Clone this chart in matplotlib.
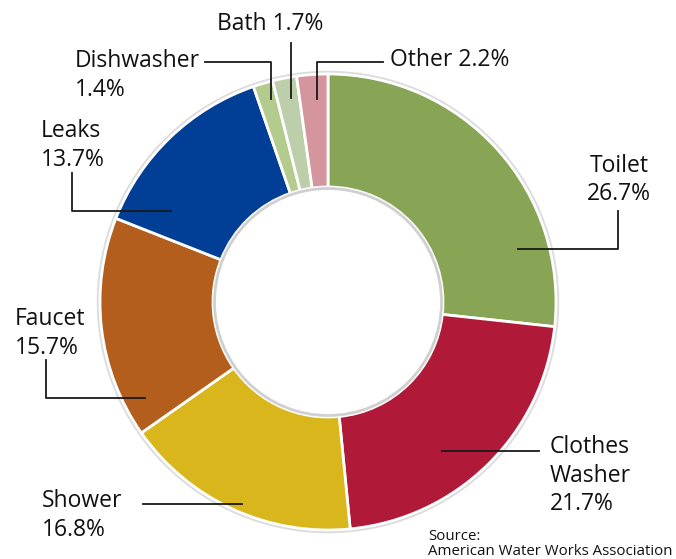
"""Donut chart of household indoor water use by fixture."""

import matplotlib
matplotlib.use("Agg")
import matplotlib.pyplot as plt
from matplotlib.patches import Circle

plt.rcParams["font.family"] = ["Open Sans", "DejaVu Sans"]

categories = ["Toilet", "Clothes\nWasher", "Shower", "Faucet", "Leaks",
              "Dishwasher", "Bath", "Other"]
shares = [26.7, 21.7, 16.8, 15.7, 13.7, 1.4, 1.7, 2.2]
colors = ["#87a555", "#b01a38", "#d9b61b", "#b35e1c", "#013e96",
          "#b3cb8c", "#bccfaa", "#d4959c"]

# label placement in pixel coords: text anchor, alignment, leader path
label_specs = {
    "Toilet": dict(xy=(619, 154), ha="center", sep="\n",
                   path=[(518, 249), (618, 249), (618, 211)]),
    "Clothes\nWasher": dict(xy=(550, 435), ha="left", sep="\n",
                            path=[(442, 451), (539, 451)]),
    "Shower": dict(xy=(42, 489), ha="left", sep="\n",
                   path=[(143, 504), (242, 504)]),
    "Faucet": dict(xy=(15, 307), ha="left", sep="\n",
                   path=[(46, 360), (46, 398), (145, 398)]),
    "Leaks": dict(xy=(41, 119), ha="left", sep="\n",
                  path=[(72, 173), (72, 211), (171, 211)]),
    "Dishwasher": dict(xy=(75, 49), ha="left", sep="\n",
                       path=[(205, 62), (271, 62), (271, 99)]),
    "Bath": dict(xy=(217, 12), ha="left", sep=" ",
                 path=[(291, 43), (291, 98)]),
    "Other": dict(xy=(390, 48), ha="left", sep=" ",
                  path=[(383, 62), (317, 62), (317, 99)]),
}

center = (328, 302)
outer_r = 228
inner_r = 115

fig = plt.figure(figsize=(6.76, 5.59), dpi=100)
ax = fig.add_axes([0, 0, 1, 1])

# soft shadow rims
ax.add_patch(Circle(center, outer_r + 1.5, facecolor="none",
                    edgecolor="#dcdcdc", linewidth=2.5, zorder=0))

ax.pie(shares, colors=colors, startangle=-90, counterclock=True,
       center=center, radius=outer_r,
       wedgeprops=dict(width=outer_r - inner_r, edgecolor="white",
                       linewidth=2))

ax.add_patch(Circle(center, inner_r - 1.5, facecolor="white",
                    edgecolor="#d0d0d0", linewidth=2, zorder=3))

for name, value in zip(categories, shares):
    spec = label_specs[name]
    xs, ys = zip(*spec["path"])
    ax.plot(xs, ys, color="#1a1a1a", linewidth=1.3, zorder=4)
    ax.text(spec["xy"][0], spec["xy"][1], f"{name}{spec['sep']}{value}%",
            ha=spec["ha"], va="top", fontsize=16.5, color="#111111",
            linespacing=1.25, zorder=5)

ax.text(428, 529, "Source:\nAmerican Water Works Association",
        ha="left", va="top", fontsize=10.8, color="#111111",
        linespacing=1.0)

ax.set_xlim(0, 676)
ax.set_ylim(559, 0)
ax.set_aspect("equal")
ax.axis("off")

fig.savefig("out.png", dpi=100)
